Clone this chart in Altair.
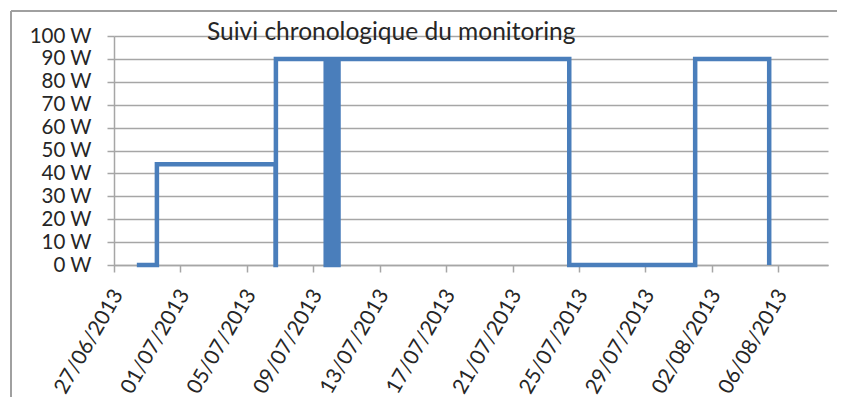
import altair as alt
import pandas as pd

# Chart values
times = [
    "2013-06-28T09:00", "2013-06-29T14:00", "2013-07-06T17:30", "2013-07-06T18:00",
    "2013-07-09T18:00", "2013-07-09T19:00", "2013-07-09T20:30", "2013-07-09T21:30",
    "2013-07-09T23:00", "2013-07-10T00:00", "2013-07-10T01:30", "2013-07-10T02:30",
    "2013-07-10T04:00", "2013-07-10T05:00", "2013-07-10T06:30", "2013-07-10T07:30",
    "2013-07-10T09:00", "2013-07-10T10:00", "2013-07-10T11:30", "2013-07-10T12:30",
    "2013-07-10T13:30",
    "2013-07-24T10:00", "2013-08-01T00:00", "2013-08-05T11:00",
]
watts = [
    0, 44, 0, 90,
    0, 90, 0, 90,
    0, 90, 0, 90,
    0, 90, 0, 90,
    0, 90, 0, 90,
    90,
    0, 90, 0,
]
tick_labels = ["27/06/2013", "01/07/2013", "05/07/2013", "09/07/2013", "13/07/2013",
               "17/07/2013", "21/07/2013", "25/07/2013", "29/07/2013", "02/08/2013",
               "06/08/2013"]
y_ticks = [0, 10, 20, 30, 40, 50, 60, 70, 80, 90, 100]
title_text = "Suivi chronologique du monitoring"

df = pd.DataFrame({"t": times, "w": watts})
title_df = pd.DataFrame({"title": [title_text]})

def to_dt(lbl):
    d, m, y = lbl.split("/")
    return alt.DateTime(year=int(y), month=int(m), date=int(d))

tick_values = [to_dt(l) for l in tick_labels]

FONT = "Lato"
GRID = "#a6a6a6"
TEXT = "#262626"

line = alt.Chart(df).mark_line(
    interpolate="step-after", color="#4a7ebb", strokeWidth=4.5,
    strokeJoin="miter", strokeCap="butt"
).encode(
    x=alt.X("t:T",
            scale=alt.Scale(domain=[alt.DateTime(year=2013, month=6, date=27),
                                    alt.DateTime(year=2013, month=8, date=9)]),
            axis=alt.Axis(values=tick_values, format="%d/%m/%Y", title=None,
                          labelAngle=300, labelAlign="right", labelBaseline="middle",
                          labelFont=FONT, labelFontSize=21, labelColor=TEXT,
                          labelPadding=19, labelOffset=4,
                          tickSize=7, tickColor=GRID, tickWidth=1.5,
                          domainColor=GRID, domainWidth=1.5, grid=False,
                          labelOverlap=False)),
    y=alt.Y("w:Q",
            scale=alt.Scale(domain=[0, 100], nice=False),
            axis=alt.Axis(values=y_ticks, labelExpr="datum.value + ' W'", title=None,
                          labelFont=FONT, labelFontSize=20.5, labelColor=TEXT,
                          labelPadding=16, tickSize=7, tickColor=GRID, tickWidth=1.5,
                          domainColor=GRID, domainWidth=1.5,
                          grid=True, gridColor=GRID, gridWidth=1.5))
)

title = alt.Chart(title_df).mark_text(
    align="left", baseline="alphabetic", font=FONT, fontSize=24.5, color=TEXT
).encode(x=alt.value(93), y=alt.value(4), text="title:N")

border_left = alt.Chart(df).mark_rule(color="#a0a0a0", strokeWidth=2).encode(
    x=alt.value(-103), y=alt.value(-25), y2=alt.value(400))
border_top = alt.Chart(df).mark_rule(color="#a0a0a0", strokeWidth=2).encode(
    x=alt.value(-103), x2=alt.value(740), y=alt.value(-25))

chart = alt.layer(border_left, border_top, line, title).properties(
    width=714, height=229,
    autosize=alt.AutoSizeParams(type="none"),
    padding={"left": 106, "top": 28, "right": 9, "bottom": 132},
).configure_view(stroke=None)

chart.save("out.html", embed_options={"renderer": "svg", "actions": False})
